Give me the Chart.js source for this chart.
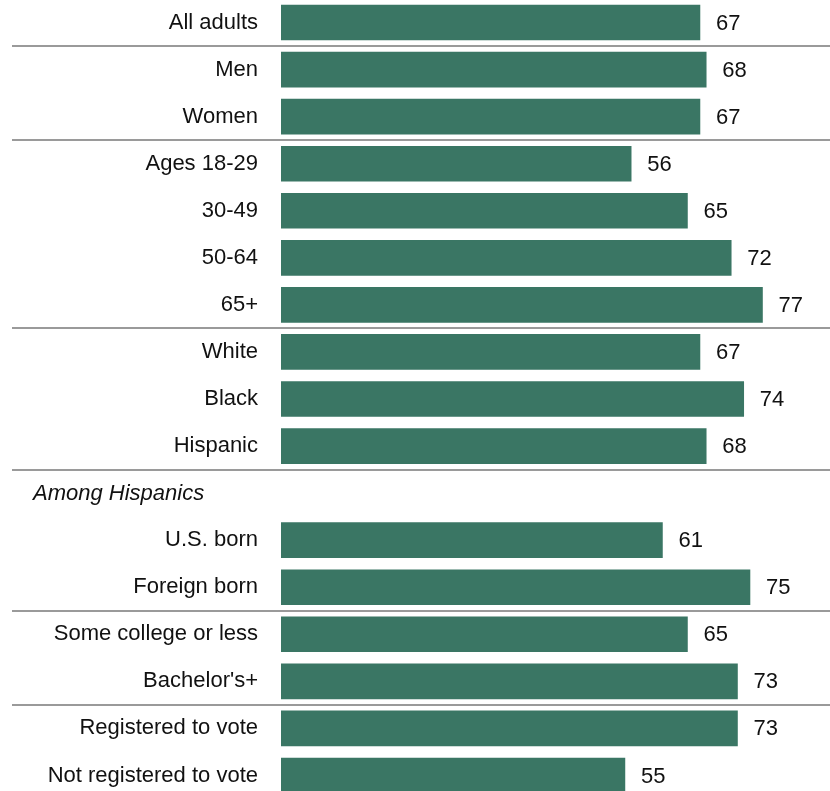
<!DOCTYPE html>
<html>
<head>
<meta charset="utf-8">
<script src="https://cdn.jsdelivr.net/npm/chart.js@4/dist/chart.umd.min.js"></script>
<style>
  html, body { margin: 0; padding: 0; background: #fff; overflow: hidden; }
  #wrap { position: absolute; left: 0; top: -1px; width: 830px; height: 800px; }
</style>
</head>
<body>
<div id="wrap"><canvas id="mainChart" width="830" height="800"></canvas></div>
<script>
// Categories and values (null = subheading row, no bar)
const categories = [
  "All adults", "Men", "Women",
  "Ages 18-29", "30-49", "50-64", "65+",
  "White", "Black", "Hispanic",
  "Among Hispanics",
  "U.S. born", "Foreign born",
  "Some college or less", "Bachelor's+",
  "Registered to vote", "Not registered to vote"
];
const values = [67, 68, 67, 56, 65, 72, 77, 67, 74, 68, null, 61, 75, 65, 73, 73, 55];
const headingRows = [10];               // italic subheading, left aligned
const separatorsAfter = [0, 2, 6, 9, 12, 14]; // grey rule below these rows

const barColor = "#3a7664";
const fontFamily = "'Liberation Sans', Arial, sans-serif";

// draw separators, subheading and value labels
const extrasPlugin = {
  id: "extras",
  afterDatasetsDraw(chart) {
    const ctx = chart.ctx;
    const y = chart.scales.y;
    const x = chart.scales.x;
    ctx.save();

    // separators
    ctx.strokeStyle = "#9a9a9a";
    ctx.lineWidth = 2;
    separatorsAfter.forEach((i) => {
      const py = Math.round((y.getPixelForValue(i) + y.getPixelForValue(i + 1)) / 2);
      ctx.beginPath();
      ctx.moveTo(12, py);
      ctx.lineTo(chart.width, py);
      ctx.stroke();
    });

    // subheading
    ctx.fillStyle = "#111";
    ctx.font = "italic 22px " + fontFamily;
    ctx.textAlign = "left";
    ctx.textBaseline = "middle";
    headingRows.forEach((i) => {
      ctx.fillText(categories[i], 33, y.getPixelForValue(i) + 1);
    });

    // value labels
    ctx.font = "22px " + fontFamily;
    values.forEach((v, i) => {
      if (v === null) return;
      ctx.fillText(String(v), x.getPixelForValue(v) + 16, y.getPixelForValue(i) + 1);
    });
    ctx.restore();
  },
};

const config = {
  type: "bar",
  data: {
    labels: categories,
    datasets: [
      {
        data: values,
        backgroundColor: barColor,
        barThickness: 35,
      },
    ],
  },
  options: {
    indexAxis: "y",
    responsive: false,
    animation: false,
    devicePixelRatio: 1,
    layout: { padding: 0 },
    plugins: {
      legend: { display: false },
      tooltip: { enabled: false },
    },
    scales: {
      x: {
        display: false,
        min: 0,
        max: 87.8,
      },
      y: {
        grid: { display: false, drawTicks: false },
        border: { display: false },
        afterFit(scale) {
          scale.width = 281;
          scale.paddingTop = 0;
          scale.paddingBottom = 0;
        },
        ticks: {
          padding: 23,
          color: "#111",
          font: { family: fontFamily, size: 22 },
          autoSkip: false,
          callback: function (value, index) {
            return headingRows.includes(index) ? "" : categories[index];
          },
        },
      },
    },
  },
  plugins: [extrasPlugin],
};

const mainChart = new Chart(document.getElementById("mainChart"), config);
</script>
</body>
</html>
